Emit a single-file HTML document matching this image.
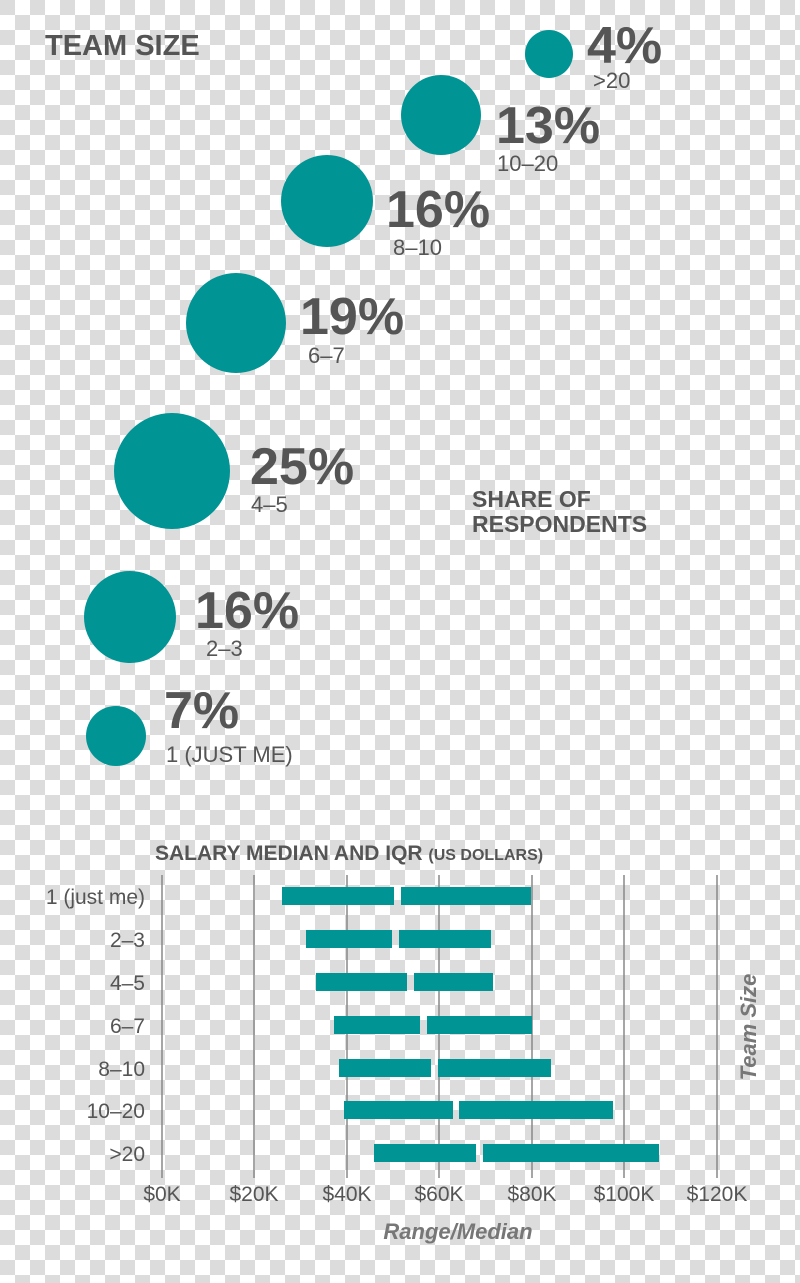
<!DOCTYPE html>
<html><head><meta charset="utf-8"><style>
html,body{margin:0;padding:0}
body{width:800px;height:1283px;overflow:hidden;background-color:#fff;
background-image:conic-gradient(#fff 0 25%,#dcdcdc 0 50%,#fff 0 75%,#dcdcdc 0);background-size:30px 30px;}
svg{position:absolute;left:0;top:0}
text{font-family:"Liberation Sans",sans-serif;fill:#555}
.b{font-weight:bold;letter-spacing:0px}
.s{font-size:22px}
</style></head><body>
<svg width="800" height="1283" viewBox="0 0 800 1283">
<text x="45" y="55" font-size="29" font-weight="bold">TEAM SIZE</text>
<g fill="#009494">
<circle cx="549" cy="54" r="24"/>
<circle cx="441" cy="115" r="40"/>
<circle cx="327" cy="201" r="46"/>
<circle cx="236" cy="323" r="50"/>
<circle cx="172" cy="471" r="58"/>
<circle cx="130" cy="617" r="46"/>
<circle cx="116" cy="736" r="30"/>
</g>
<g font-size="52">
<text class="b" x="587" y="63">4%</text>
<text class="b" x="496" y="143">13%</text>
<text class="b" x="386" y="227">16%</text>
<text class="b" x="300" y="334">19%</text>
<text class="b" x="250" y="484">25%</text>
<text class="b" x="195" y="628">16%</text>
<text class="b" x="164" y="728">7%</text>
</g>
<text class="s" x="593" y="88">&gt;20</text>
<text class="s" x="497" y="171">10–20</text>
<text class="s" x="393" y="255">8–10</text>
<text class="s" x="308" y="363">6–7</text>
<text class="s" x="251" y="512">4–5</text>
<text class="s" x="206" y="656">2–3</text>
<text class="s" x="166" y="762">1 (JUST ME)</text>
<text x="472" y="507" font-size="23" font-weight="bold">SHARE OF</text>
<text x="472" y="532" font-size="23" font-weight="bold">RESPONDENTS</text>

<text x="155" y="860" font-size="21" font-weight="bold">SALARY MEDIAN AND IQR <tspan font-size="16">(US DOLLARS)</tspan></text>
<g stroke="#888" stroke-width="1.5">
<line x1="162" y1="875" x2="162" y2="1178"/>
<line x1="254" y1="875" x2="254" y2="1178"/>
<line x1="347" y1="875" x2="347" y2="1178"/>
<line x1="439" y1="875" x2="439" y2="1178"/>
<line x1="532" y1="875" x2="532" y2="1178"/>
<line x1="624" y1="875" x2="624" y2="1178"/>
<line x1="717" y1="875" x2="717" y2="1178"/>
</g>
<g fill="#009494">
<rect x="282" y="887" width="112" height="18"/><rect x="401" y="887" width="130" height="18"/>
<rect x="306" y="930" width="86" height="18"/><rect x="399" y="930" width="92" height="18"/>
<rect x="316" y="973" width="91" height="18"/><rect x="414" y="973" width="79" height="18"/>
<rect x="334" y="1016" width="86" height="18"/><rect x="427" y="1016" width="105" height="18"/>
<rect x="339" y="1059" width="92" height="18"/><rect x="438" y="1059" width="113" height="18"/>
<rect x="344" y="1101" width="109" height="18"/><rect x="459" y="1101" width="154" height="18"/>
<rect x="374" y="1144" width="102" height="18"/><rect x="483" y="1144" width="176" height="18"/>
</g>
<g font-size="21" text-anchor="end">
<text x="145" y="904">1 (just me)</text>
<text x="145" y="947">2–3</text>
<text x="145" y="990">4–5</text>
<text x="145" y="1033">6–7</text>
<text x="145" y="1076">8–10</text>
<text x="145" y="1118">10–20</text>
<text x="145" y="1161">&gt;20</text>
</g>
<g font-size="21" text-anchor="middle">
<text x="162" y="1201">$0K</text>
<text x="254" y="1201">$20K</text>
<text x="347" y="1201">$40K</text>
<text x="439" y="1201">$60K</text>
<text x="532" y="1201">$80K</text>
<text x="624" y="1201">$100K</text>
<text x="717" y="1201">$120K</text>
</g>
<text x="458" y="1239" font-size="22" font-style="italic" font-weight="bold" text-anchor="middle" style="fill:#777">Range/Median</text>
<text transform="translate(756,1027) rotate(-90)" font-size="22" font-style="italic" font-weight="bold" text-anchor="middle" style="fill:#777">Team Size</text>
</svg>
</body></html>
